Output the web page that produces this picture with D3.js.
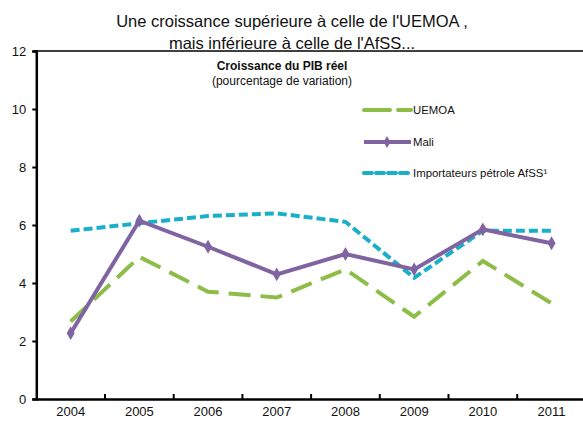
<!DOCTYPE html>
<html><head><meta charset="utf-8">
<script src="https://cdn.jsdelivr.net/npm/d3@7"></script>
<style>body{margin:0;background:#fff;}svg{display:block;font-family:"Liberation Sans",Arial,sans-serif;}</style>
</head><body>
<script>
const years = ["2004","2005","2006","2007","2008","2009","2010","2011"];
const uemoa = [2.67, 4.9, 3.7, 3.5, 4.47, 2.84, 4.76, 3.3];
const mali = [2.27, 6.15, 5.25, 4.3, 5.0, 4.47, 5.85, 5.37];
const afss = [5.8, 6.06, 6.31, 6.4, 6.11, 4.18, 5.8, 5.8];
const yTicks = [0, 2, 4, 6, 8, 10, 12];

const W = 583, H = 422;
const svg = d3.select("body").append("svg").attr("width", W).attr("height", H);
const x0 = 36.3, bw = 68.7;
const x = d3.scaleBand().domain(years).range([x0, x0 + bw * years.length]).padding(0);
const y = d3.scaleLinear().domain([0, 12]).range([399, 51]);

// title
svg.append("text").attr("x", 292).attr("y", 27).attr("text-anchor", "middle").attr("font-size", 16.5).attr("fill", "#111").text("Une croissance supérieure à celle de l'UEMOA ,");
svg.append("text").attr("x", 292).attr("y", 49).attr("text-anchor", "middle").attr("font-size", 16.5).attr("fill", "#111").text("mais inférieure à celle de l'AfSS...");

// top border
svg.append("line").attr("x1", x0 - 2).attr("x2", W).attr("y1", y(12)).attr("y2", y(12)).attr("stroke", "#000").attr("stroke-width", 1.5);

// axes
const yAxis = d3.axisLeft(y).tickValues(yTicks).tickSize(4).tickPadding(6);
const gy = svg.append("g").attr("transform", `translate(${x0},0)`).call(yAxis);
gy.select(".domain").attr("stroke-width", 2.5);
gy.selectAll(".tick line").attr("stroke-width", 2);
gy.selectAll("text").attr("font-size", 13).attr("fill", "#111").attr("font-family", "Liberation Sans, Arial, sans-serif");

const xAxis = d3.axisBottom(x).tickSize(0).tickPadding(8);
const gx = svg.append("g").attr("transform", `translate(0,${y(0)})`).call(xAxis);
gx.select(".domain").attr("stroke-width", 2.5);
gx.selectAll("text").attr("font-size", 13).attr("fill", "#111").attr("font-family", "Liberation Sans, Arial, sans-serif");
// category separators
gx.selectAll(".sep").data(years.slice(1)).enter().append("line")
  .attr("x1", d => x(d)).attr("x2", d => x(d)).attr("y1", 0).attr("y2", -5)
  .attr("stroke", "#000").attr("stroke-width", 2);

// subtitle
svg.append("text").attr("x", 282).attr("y", 70).attr("text-anchor", "middle").attr("font-size", 12).attr("font-weight", "bold").attr("fill", "#111").text("Croissance du PIB réel");
svg.append("text").attr("x", 282).attr("y", 85).attr("text-anchor", "middle").attr("font-size", 12).attr("fill", "#111").text("(pourcentage de variation)");

const cx = d => x(d) + x.bandwidth() / 2;
const line = vals => d3.line().x((d, i) => cx(years[i])).y(d => y(d))(vals);

const green = "#8DBC47", purple = "#8064A2", cyan = "#1AAFC9";

svg.append("path").attr("d", line(uemoa)).attr("fill", "none").attr("stroke", green).attr("stroke-width", 4).attr("stroke-dasharray", "22,10");
svg.append("path").attr("d", line(afss)).attr("fill", "none").attr("stroke", cyan).attr("stroke-width", 4).attr("stroke-dasharray", "9,4");
svg.append("path").attr("d", line(mali)).attr("fill", "none").attr("stroke", purple).attr("stroke-width", 4);
svg.selectAll(".mk").data(mali).enter().append("path")
  .attr("d", d3.symbol().type(d3.symbolDiamond).size(55))
  .attr("transform", (d, i) => `translate(${cx(years[i])},${y(d)})`)
  .attr("fill", purple);

// legend
const leg = [
  {name: "UEMOA", color: green, dash: "26,8", marker: false, y: 110},
  {name: "Mali", color: purple, dash: null, marker: true, y: 142},
  {name: "Importateurs pétrole AfSS¹", color: cyan, dash: "8,4", marker: false, y: 173}
];
leg.forEach(l => {
  svg.append("line").attr("x1", 364).attr("x2", 411).attr("y1", l.y).attr("y2", l.y)
    .attr("stroke", l.color).attr("stroke-width", 4).attr("stroke-dasharray", l.dash).attr("stroke-linecap", l.dash ? "round" : "butt");
  if (l.marker) svg.append("path").attr("d", d3.symbol().type(d3.symbolDiamond).size(40)).attr("transform", `translate(387,${l.y})`).attr("fill", l.color);
  svg.append("text").attr("x", 413).attr("y", l.y + 4).attr("font-size", 11.4).attr("fill", "#111").text(l.name);
});
</script>
</body></html>
